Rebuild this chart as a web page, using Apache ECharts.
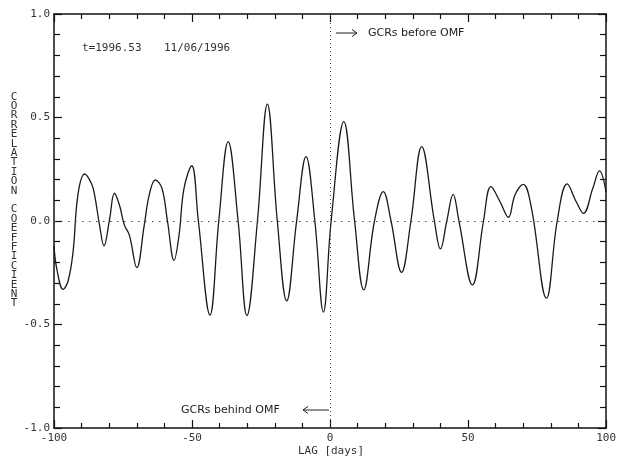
<!DOCTYPE html>
<html>
<head>
<meta charset="utf-8">
<script src="https://cdn.jsdelivr.net/npm/echarts@6/dist/echarts.min.js"></script>
<style>
html,body{margin:0;padding:0;background:#fff;}
#chart{width:619px;height:458px;}
</style>
</head>
<body>
<div id="chart"></div>
<script>
// ---- data ----
var lags = [-100, -99.0, -96.7, -94.9, -93.1, -91.3, -88.9, -86.4, -85.3, -83.5, -81.9, -79.9, -78.1, -76.3, -74.5, -72.7, -70.0, -67.3, -65.5, -63.3, -60.9, -58.9, -56.5, -54.7, -52.9, -50.1, -47.7, -43.5, -40.3, -36.9, -33.3, -30.1, -26.3, -22.7, -19.1, -15.7, -12.1, -8.7, -5.5, -2.4, 0.4, 5.0, 8.9, 12.2, 16.1, 19.3, 22.1, 25.9, 29.3, 33.2, 37.8, 40.0, 42.3, 44.6, 46.7, 51.6, 55.6, 58.3, 61.6, 64.6, 67.0, 70.0, 73.0, 78.4, 82.3, 85.9, 89.2, 91.8, 95.2, 97.6, 100];
var corr = [-0.12, -0.23, -0.33, -0.29, -0.15, 0.13, 0.227, 0.18, 0.126, -0.02, -0.12, 0.005, 0.134, 0.077, -0.02, -0.068, -0.225, -0.02, 0.126, 0.198, 0.158, 0.0, -0.19, -0.068, 0.158, 0.267, 0.0, -0.454, 0.0, 0.383, 0.0, -0.457, 0.0, 0.565, 0.0, -0.386, 0.0, 0.311, 0.0, -0.44, 0.0, 0.48, 0.0, -0.333, 0.0, 0.142, 0.0, -0.248, 0.0, 0.359, 0.0, -0.135, 0.0, 0.129, 0.0, -0.309, 0.0, 0.166, 0.093, 0.018, 0.126, 0.177, 0.06, -0.373, 0.0, 0.179, 0.093, 0.037, 0.158, 0.242, 0.14];
var xTickLabels = {'-100': '-100', '-50': '-50', '0': '0', '50': '50', '100': '100'};
var yTickLabels = {'-1': '-1.0', '-0.5': '-0.5', '0': '0.0', '0.5': '0.5', '1': '1.0'};
var xName = 'LAG [days]';
var yName = 'CORRELATION COEFFICIENT';
var timeText = 't=1996.53';
var dateText = '11/06/1996';
var beforeText = 'GCRs before OMF';
var behindText = 'GCRs behind OMF';

var seriesData = lags.map(function (x, i) { return [x, corr[i]]; });

var mono = 'DejaVu Sans Mono, Liberation Mono, monospace';
var sans = 'DejaVu Sans, sans-serif';
var axisColor = '#111';
var textColor = '#333';

function xAxisCfg(pos, showLabel) {
  return {
    type: 'value', position: pos, min: -100, max: 100, interval: 50,
    axisLine: { show: true, onZero: false, lineStyle: { color: axisColor, width: 1.5 } },
    axisTick: { show: true, inside: true, length: 8, lineStyle: { color: axisColor, width: 1.2 } },
    minorTick: { show: true, splitNumber: 5, length: 5, lineStyle: { color: axisColor, width: 1.2 } },
    splitLine: { show: false },
    axisLabel: {
      show: showLabel, margin: 5, color: textColor, fontFamily: mono, fontSize: 11,
      formatter: function (v) { return xTickLabels[String(v)] || ''; }
    }
  };
}
function yAxisCfg(pos, showLabel) {
  return {
    type: 'value', position: pos, min: -1, max: 1, interval: 0.5,
    axisLine: { show: true, onZero: false, lineStyle: { color: axisColor, width: 1.5 } },
    axisTick: { show: true, inside: true, length: 8, lineStyle: { color: axisColor, width: 1.2 } },
    minorTick: { show: true, splitNumber: 5, length: 6, lineStyle: { color: axisColor, width: 1.2 } },
    splitLine: { show: false },
    axisLabel: {
      show: showLabel, margin: 4, color: textColor, fontFamily: mono, fontSize: 11,
      formatter: function (v) { return yTickLabels[String(v)] || ''; }
    }
  };
}

var chart = echarts.init(document.getElementById('chart'), null, { renderer: 'canvas' });
chart.setOption({
  backgroundColor: '#fff',
  animation: false,
  grid: { left: 54, right: 9, top: 14, bottom: 30, containLabel: false },
  xAxis: [xAxisCfg('bottom', true), xAxisCfg('top', false)],
  yAxis: [yAxisCfg('left', true), yAxisCfg('right', false)],
  series: [{
    type: 'line',
    xAxisIndex: 0, yAxisIndex: 0,
    data: seriesData,
    smooth: 0.4,
    symbol: 'none',
    lineStyle: { color: '#1a1a1a', width: 1.3 },
    markLine: {
      silent: true, symbol: ['none', 'none'], label: { show: false },
      data: [
        { xAxis: 0, lineStyle: { type: [1, 3], color: '#444', width: 1 } },
        { yAxis: 0, lineStyle: { type: [1.5, 5.5], color: '#444', width: 1 } }
      ]
    }
  }],
  graphic: [
    { type: 'text', style: { text: timeText, x: 82, y: 48, font: '11px ' + mono, fill: textColor, textVerticalAlign: 'middle' } },
    { type: 'text', style: { text: dateText, x: 164, y: 48, font: '11px ' + mono, fill: textColor, textVerticalAlign: 'middle' } },
    { type: 'line', shape: { x1: 336, y1: 33, x2: 357, y2: 33 }, style: { stroke: '#222', lineWidth: 1 } },
    { type: 'polyline', shape: { points: [[352, 29.5], [357, 33], [352, 36.5]] }, style: { stroke: '#222', lineWidth: 1, fill: null } },
    { type: 'text', style: { text: beforeText, x: 368, y: 33, font: '11px ' + sans, fill: '#222', textVerticalAlign: 'middle' } },
    { type: 'text', style: { text: behindText, x: 181, y: 410, font: '11px ' + sans, fill: '#222', textVerticalAlign: 'middle' } },
    { type: 'line', shape: { x1: 303, y1: 410, x2: 329, y2: 410 }, style: { stroke: '#222', lineWidth: 1 } },
    { type: 'polyline', shape: { points: [[308, 406.5], [303, 410], [308, 413.5]] }, style: { stroke: '#222', lineWidth: 1, fill: null } },
    { type: 'text', style: { text: xName, x: 331, y: 451, font: '11px ' + mono, fill: textColor, textAlign: 'center', textVerticalAlign: 'middle' } },
    { type: 'text', style: { text: yName.split('').join('\n'), x: 14, y: 92, font: '11px ' + mono, lineHeight: 9.4, fill: textColor, textAlign: 'center', textVerticalAlign: 'top' } }
  ]
});
</script>
</body>
</html>
